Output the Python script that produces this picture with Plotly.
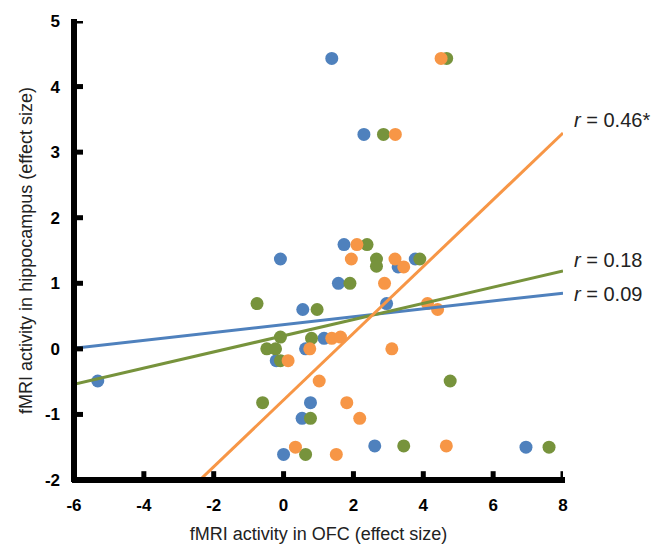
import plotly.graph_objects as go

# Data
blue_x = [1.38, 2.30, 1.73, -0.09, 3.77, 3.28, 1.57, 0.55, 2.95, 1.16, 0.63, -0.21, -5.32, 0.77, 0.53, 2.61, 0.00, 6.94]
blue_y = [4.43, 3.27, 1.59, 1.37, 1.37, 1.25, 1.00, 0.60, 0.69, 0.16, 0.00, -0.18, -0.49, -0.82, -1.06, -1.48, -1.61, -1.50]

green_x = [4.67, 2.86, 2.39, 2.66, 2.66, 3.90, 1.90, -0.76, 0.96, -0.09, 0.80, -0.48, -0.23, -0.09, 4.77, -0.60, 0.77, 3.44, 0.63, 7.60]
green_y = [4.43, 3.27, 1.59, 1.37, 1.26, 1.37, 1.00, 0.69, 0.60, 0.18, 0.16, 0.00, 0.00, -0.18, -0.49, -0.82, -1.06, -1.48, -1.61, -1.50]

orange_x = [4.51, 3.20, 2.10, 1.94, 3.19, 3.44, 2.89, 4.12, 4.41, 1.38, 1.63, 0.75, 3.10, 0.13, 1.02, 1.81, 2.18, 4.66, 0.34, 1.51]
orange_y = [4.43, 3.27, 1.59, 1.37, 1.37, 1.25, 1.00, 0.69, 0.60, 0.16, 0.18, 0.00, 0.00, -0.18, -0.49, -0.82, -1.06, -1.48, -1.50, -1.61]

# Fitted lines: slope, intercept, correlation label
fit_slopes = {"blue": 0.060, "green": 0.1236, "orange": 0.509}
fit_intercepts = {"blue": 0.37, "green": 0.20, "orange": -0.78}
fit_labels = {"blue": "0.09", "green": "0.18", "orange": "0.46*"}

colors = {"blue": "#4F81BD", "green": "#77933C", "orange": "#F79646"}

x_ticks = [-6, -4, -2, 0, 2, 4, 6, 8]
y_ticks = [-2, -1, 0, 1, 2, 3, 4, 5]
x_range = [-6, 8]
y_range = [-2, 5]

fig = go.Figure()

series = [("blue", blue_x, blue_y), ("green", green_x, green_y), ("orange", orange_x, orange_y)]
for name, xs, ys in series:
    fig.add_trace(go.Scatter(x=xs, y=ys, mode="markers",
                             marker=dict(size=13, color=colors[name]),
                             showlegend=False))

for name in ["blue", "green", "orange"]:
    m, b = fit_slopes[name], fit_intercepts[name]
    xs = [x_range[0], x_range[1]]
    ys = [m * v + b for v in xs]
    fig.add_trace(go.Scatter(x=xs, y=ys, mode="lines",
                             line=dict(color=colors[name], width=3),
                             showlegend=False))

# labels at right end of lines
label_y = {"orange": 3.49, "green": 1.35, "blue": 0.84}
for name in ["orange", "green", "blue"]:
    fig.add_annotation(x=x_range[1], y=label_y[name], xref="x", yref="y",
                       text=f"<i>r</i> = {fit_labels[name]}", showarrow=False,
                       xanchor="left", xshift=9,
                       font=dict(family="Liberation Sans", size=20, color="#222"))

# axis lines and inside tick marks drawn as shapes
W, H = 670 - 74 - 107, 553 - 18 - 66
tick_px = 9
shapes = [
    dict(type="line", xref="paper", yref="paper", x0=-2 / W, x1=1 + 2 / W, y0=0, y1=0,
         line=dict(color="black", width=6), layer="above"),
    dict(type="line", xref="paper", yref="paper", x0=0, x1=0, y0=-2 / H, y1=1 + 2 / H,
         line=dict(color="black", width=6), layer="above"),
]
for t in x_ticks:
    shapes.append(dict(type="line", xref="x", yref="paper", x0=t, x1=t, y0=0, y1=tick_px / H,
                       line=dict(color="black", width=5), layer="above"))
for t in y_ticks:
    shapes.append(dict(type="line", xref="paper", yref="y", x0=0, x1=tick_px / W, y0=t, y1=t,
                       line=dict(color="black", width=5), layer="above"))

fig.update_layout(width=670, height=553, margin=dict(l=74, r=107, t=18, b=66),
                  plot_bgcolor="white", paper_bgcolor="white", shapes=shapes)
fig.update_xaxes(range=x_range, tickvals=x_ticks, ticktext=[f"<b>{v}</b>" for v in x_ticks],
                 showgrid=False, zeroline=False, showline=False, ticks="", ticklabelstandoff=13,
                 tickfont=dict(family="Liberation Sans", size=17, color="black"),
                 title=dict(text="fMRI activity in OFC (effect size)",
                            font=dict(family="Liberation Sans", size=18, color="#222"), standoff=13))
fig.update_yaxes(range=y_range, tickvals=y_ticks, ticktext=[f"<b>{v}</b>" for v in y_ticks],
                 showgrid=False, zeroline=False, showline=False, ticks="", ticklabelstandoff=13,
                 tickfont=dict(family="Liberation Sans", size=17, color="black"),
                 title=dict(text="fMRI activity in hippocampus (effect size)",
                            font=dict(family="Liberation Sans", size=18, color="#222"), standoff=7))

fig.write_html("out.html")
